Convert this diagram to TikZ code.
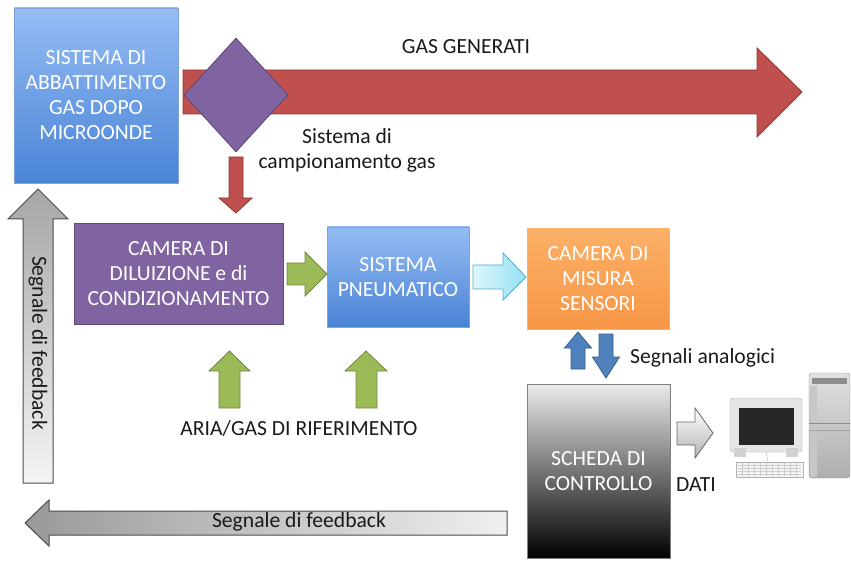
\documentclass[tikz,border=0pt]{standalone}
\usepackage{fontspec}
\setmainfont{Carlito}
\usetikzlibrary{shapes.geometric}
\definecolor{boxblueT}{HTML}{95BDF4}
\definecolor{boxblueB}{HTML}{4A83D6}
\definecolor{bluedraw}{HTML}{7DA2D6}
\definecolor{purp}{HTML}{8064A2}
\definecolor{purpdraw}{HTML}{5C4776}
\definecolor{redf}{HTML}{C0504D}
\definecolor{redd}{HTML}{8C3836}
\definecolor{greenf}{HTML}{9BBB59}
\definecolor{greend}{HTML}{71893F}
\definecolor{cyanL}{HTML}{DDF6FC}
\definecolor{cyanR}{HTML}{96E0F2}
\definecolor{cyand}{HTML}{4BACC6}
\definecolor{orT}{HTML}{FBB067}
\definecolor{orB}{HTML}{F79646}
\definecolor{ord}{HTML}{F3B27A}
\definecolor{bluef}{HTML}{4F81BD}
\definecolor{blued}{HTML}{385D8A}
\definecolor{txt}{HTML}{1A1A1A}
\begin{document}
\begin{tikzpicture}[x=1pt,y=-1pt,
  font=\fontsize{21.6}{25}\selectfont,
  box/.style={draw, line width=0.6pt, inner sep=0pt, align=center, text=white},
  bluebox/.style={box, draw=bluedraw, top color=boxblueT, bottom color=boxblueB},
  purpbox/.style={box, draw=purpdraw, fill=purp},
  orbox/.style={box, draw=ord, top color=orT, bottom color=orB},
  ctrlbox/.style={box, draw=black!50, top color=black!8, middle color=black!55, bottom color=black},
  lbl/.style={text=txt, inner sep=0pt, align=center},
  redarrow/.style={draw=redd, fill=redf, line width=0.8pt, line join=miter},
  greenarrow/.style={draw=greend, fill=greenf, line width=0.8pt},
  cyanarrow/.style={draw=cyand, left color=cyanL, right color=cyanR, line width=0.8pt},
  bluearrow/.style={draw=blued, fill=bluef, line width=0.8pt},
  greyarrow/.style={draw=black!70, line width=1pt},
]
\useasboundingbox (0,0) rectangle (851,561);

% big red arrow (gas generati)
\draw[redarrow] (183,70) -- (757,70) -- (757,48) -- (802,92) -- (757,137) -- (757,114) -- (183,114) -- cycle;
\node[lbl] (gasgen) at (466,47) {GAS GENERATI};

% boxes
\node[bluebox, minimum width=164pt, minimum height=175pt] (abb) at (96,95.5)
  {SISTEMA DI\\ABBATTIMENTO\\GAS DOPO\\MICROONDE};
\node[diamond, draw=purpdraw, fill=purp, line width=0.8pt, inner sep=0pt,
  minimum width=104pt, minimum height=114pt] (camp) at (236,95) {};
\node[lbl] (camplbl) at (347,150) {Sistema di\\campionamento gas};

\node[purpbox, minimum width=209pt, minimum height=101pt] (dil) at (178.5,273.5)
  {CAMERA DI\\DILUIZIONE e di\\CONDIZIONAMENTO};
\node[bluebox, minimum width=142pt, minimum height=100pt] (pneu) at (398,277)
  {SISTEMA\\PNEUMATICO};
\node[orbox, minimum width=142pt, minimum height=100pt] (mis) at (598,279)
  {CAMERA DI\\MISURA\\SENSORI};
\node[ctrlbox, minimum width=143pt, minimum height=174pt] (ctrl) at (598.5,471)
  {SCHEDA DI\\CONTROLLO};

% small red arrow down
\draw[redarrow] (229,157) -- (243,157) -- (243,198) -- (252,198) -- (236,213) -- (219,198) -- (229,198) -- cycle;

% green arrow dil -> pneu
\draw[greenarrow] (287,263) -- (305,263) -- (305,252) -- (327,274) -- (305,296) -- (305,285) -- (287,285) -- cycle;
% cyan arrow pneu -> mis
\draw[cyanarrow] (473,265) -- (503,265) -- (503,253) -- (526,277) -- (503,300) -- (503,289) -- (473,289) -- cycle;

% blue up/down arrows
\draw[bluearrow] (571,369) -- (571,348) -- (564.5,348) -- (578,332) -- (591.5,348) -- (585,348) -- (585,369) -- cycle;
\draw[bluearrow] (599,334) -- (613,334) -- (613,357) -- (619.5,357) -- (606,378) -- (592.5,357) -- (599,357) -- cycle;
\node[lbl, anchor=west] (anal) at (630,358) {Segnali analogici};

% green up arrows
\draw[greenarrow] (219,408) -- (219,371) -- (209,371) -- (229.5,351) -- (250,371) -- (240,371) -- (240,408) -- cycle;
\draw[greenarrow] (356,408) -- (356,371) -- (345,371) -- (366,351) -- (387,371) -- (377,371) -- (377,408) -- cycle;
\node[lbl] (aria) at (299,428) {ARIA/GAS DI RIFERIMENTO};

% DATI arrow
\draw[greyarrow, draw=black!60, line width=0.8pt, top color=white, bottom color=black!30]
  (677,422) -- (695,422) -- (695,408) -- (713,433) -- (695,458) -- (695,445) -- (677,445) -- cycle;
\node[lbl] (dati) at (696,485) {DATI};

% feedback arrows
\draw[greyarrow, top color=black!35, bottom color=black!4]
  (23,483) -- (23,219) -- (8,219) -- (38,189) -- (68,219) -- (53,219) -- (53,483) -- cycle;
\node[lbl, rotate=-90] (fbv) at (38,343) {Segnale di feedback};
\draw[greyarrow, left color=black!40, right color=black!6]
  (507,511) -- (49,511) -- (49,500) -- (25,523) -- (49,546) -- (49,535) -- (507,535) -- cycle;
\node[lbl] (fbh) at (299,522) {Segnale di feedback};

% computer
\draw[black!35, fill=black!10, rounded corners=3pt] (730,398) rectangle (802,452);
\fill[black!18] (734,448) rectangle (746,457);
\fill[black!18] (786,448) rectangle (798,457);
\fill[black!85] (739,408) rectangle (794,445);
\draw[black!30] (766,452) -- (768,462);
\draw[black!30, fill=black!4] (736,462) rectangle (803,477);
\foreach \yy in {465,468,471,474} \draw[black!20, line width=0.4pt] (738,\yy) -- (801,\yy);
\foreach \xx in {742,748,754,760,766,772,778,784,790,796} \draw[black!20, line width=0.4pt] (\xx,463) -- (\xx,476);
\draw[black!40, top color=black!12, bottom color=black!32, rounded corners=3pt] (809,373) rectangle (850,478);
\fill[black!22] (809.5,386) rectangle (817,477);
\fill[black!45] (812,378) rectangle (847,384);
\draw[black!45] (809,423) -- (850,423);
\draw[black!35] (809,430) -- (850,430);
\end{tikzpicture}
\end{document}
